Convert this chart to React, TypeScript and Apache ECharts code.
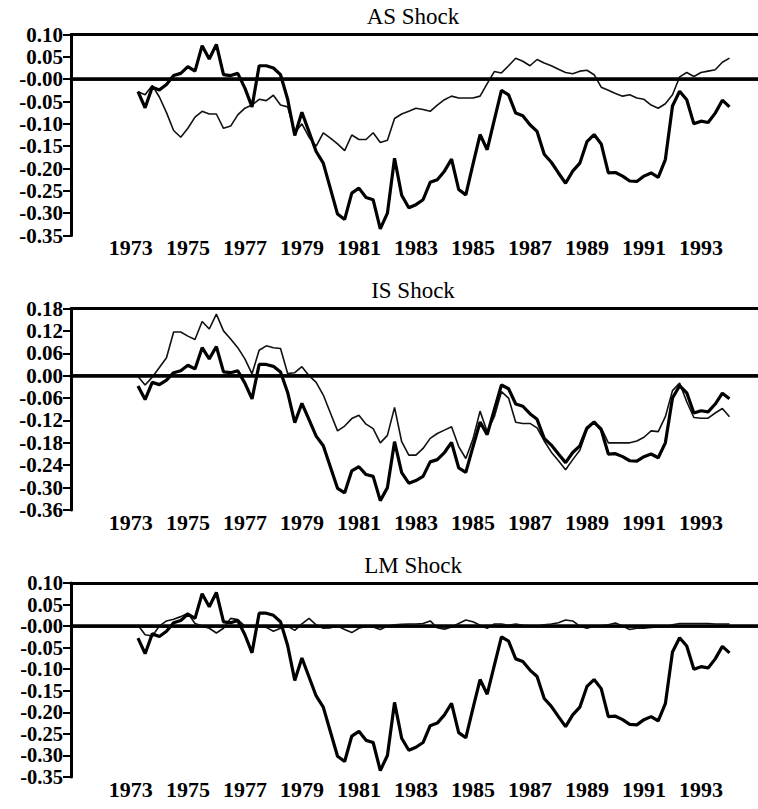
import React, { useEffect, useRef } from "react";
import * as echarts from "echarts";

// Quarterly data, 1973Q2 .. 1994Q1
const startYear = 1973.25;
const yearTicks = [1973, 1975, 1977, 1979, 1981, 1983, 1985, 1987, 1989, 1991, 1993];

const actual = [
  -0.028, -0.064, -0.018, -0.024, -0.012, 0.008, 0.013, 0.028, 0.018, 0.075,
  0.045, 0.078, 0.01, 0.008, 0.013, -0.02, -0.062, 0.03, 0.03, 0.025,
  0.01, -0.045, -0.126, -0.074, -0.118, -0.162, -0.188, -0.245, -0.302, -0.314,
  -0.255, -0.244, -0.265, -0.27, -0.335, -0.3, -0.177, -0.26, -0.288, -0.281,
  -0.27, -0.231, -0.225, -0.206, -0.179, -0.247, -0.259, -0.191, -0.124, -0.158,
  -0.091, -0.025, -0.035, -0.076, -0.082, -0.102, -0.117, -0.168, -0.186, -0.21,
  -0.233, -0.206, -0.188, -0.14, -0.124, -0.145, -0.21, -0.209, -0.217, -0.228,
  -0.229, -0.217, -0.21, -0.22, -0.18, -0.06, -0.027, -0.046, -0.1, -0.094,
  -0.097, -0.076, -0.047, -0.062,
];

const asShock = [
  -0.028, -0.035, -0.014, -0.04, -0.075, -0.115, -0.13, -0.11, -0.085, -0.072,
  -0.078, -0.078, -0.11, -0.105, -0.08, -0.065, -0.058, -0.045, -0.048, -0.036,
  -0.058, -0.062, -0.12, -0.1, -0.13, -0.15, -0.12, -0.132, -0.145, -0.16,
  -0.125, -0.135, -0.135, -0.12, -0.142, -0.137, -0.088, -0.078, -0.072, -0.065,
  -0.068, -0.072, -0.058, -0.046, -0.038, -0.042, -0.042, -0.042, -0.038, -0.01,
  0.017, 0.014, 0.03, 0.047, 0.04, 0.03, 0.044, 0.036, 0.03, 0.022,
  0.015, 0.012, 0.018, 0.02, 0.01, -0.018, -0.025, -0.032, -0.038, -0.035,
  -0.042, -0.045, -0.058, -0.065, -0.055, -0.035, 0.005, 0.015, 0.006, 0.015,
  0.018, 0.021, 0.038, 0.047,
];

const isShock = [
  -0.002, -0.025, -0.004, 0.022, 0.048, 0.117, 0.117, 0.106, 0.097, 0.145,
  0.125, 0.165, 0.12, 0.098, 0.075, 0.045, 0.005, 0.068, 0.08, 0.075,
  0.073, 0.006, 0.008, 0.024, 0.0, -0.018, -0.052, -0.1, -0.148, -0.135,
  -0.115, -0.106, -0.13, -0.142, -0.18, -0.16, -0.085, -0.177, -0.213, -0.213,
  -0.195, -0.168, -0.155, -0.146, -0.137, -0.19, -0.222, -0.17, -0.095, -0.15,
  -0.11, -0.043, -0.06, -0.125, -0.128, -0.128, -0.14, -0.175, -0.205, -0.228,
  -0.252, -0.225, -0.2, -0.145, -0.125, -0.14, -0.18, -0.18, -0.18, -0.18,
  -0.175, -0.165, -0.148, -0.15, -0.11, -0.04, -0.02, -0.07, -0.112, -0.114,
  -0.114, -0.1, -0.088, -0.11,
];

const lmShock = [
  0.002, -0.02, -0.023, 0.0, 0.012, 0.016, 0.022, 0.03, 0.006, 0.0,
  -0.005, -0.016, -0.005, 0.018, 0.015, 0.0, 0.0, 0.0, -0.003, -0.012,
  -0.005, 0.0, -0.01, 0.005, 0.018, 0.003, -0.005, -0.004, 0.0, -0.008,
  -0.015, -0.005, 0.0, -0.002, -0.008, 0.0, 0.003, 0.004, 0.005, 0.005,
  0.006, 0.012, -0.004, -0.007, -0.002, 0.006, 0.014, 0.01, 0.002, -0.005,
  0.005, 0.005, 0.002, 0.005, 0.002, 0.0, 0.0, 0.003, 0.005, 0.008,
  0.014, 0.012, 0.0, -0.005, 0.0, 0.001, 0.003, 0.007, 0.0, -0.008,
  -0.005, -0.005, -0.003, -0.002, -0.002, 0.003, 0.006, 0.006, 0.006, 0.006,
  0.006, 0.005, 0.005, 0.005,
];

const panelTitles = ["AS Shock", "IS Shock", "LM Shock"];
const panelShocks = [asShock, isShock, lmShock];
const yMins = [-0.35, -0.36, -0.35];
const yMaxs = [0.1, 0.18, 0.1];
const yIntervals = [0.05, 0.06, 0.05];
const zeroLabels = ["-0.00", "0.00", "-0.00"];

const FONT = "Times New Roman";

export default function App() {
  const ref = useRef<HTMLDivElement>(null);

  useEffect(() => {
    if (!ref.current) return;
    const chart = echarts.init(ref.current, undefined, { renderer: "svg" });

    const xs = actual.map((_, i) => startYear + i * 0.25);
    const grids = [
      { left: 71, right: 0, top: 34.5, height: 201 },
      { left: 71, right: 0, top: 308.5, height: 201.5 },
      { left: 71, right: 0, top: 583, height: 194 },
    ];
    const titleY = [16, 290.5, 565];
    const yFontSizes = [21, 21, 20.5];

    const xAxes: any[] = [];
    const yAxes: any[] = [];
    const series: any[] = [];
    const graphics: any[] = [];

    grids.forEach((g, i) => {
      xAxes.push({
        type: "value",
        gridIndex: i,
        min: 1970.9,
        max: 1995.0,
        position: "bottom",
        axisLine: { show: true, lineStyle: { color: "#000", width: 3.5 } },
        axisTick: { show: false },
        splitLine: { show: false },
        axisLabel: {
          customValues: yearTicks,
          formatter: (v: number) => String(Math.round(v)),
          color: "#000",
          fontFamily: FONT,
          fontSize: 22,
          lineHeight: 20,
          fontWeight: "bold",
          margin: 2,
        },
      });
      xAxes.push({
        type: "value",
        gridIndex: i,
        min: 1970.9,
        max: 1995.0,
        position: "top",
        axisLine: { show: true, lineStyle: { color: "#000", width: 3 } },
        axisTick: { show: false },
        axisLabel: { show: false },
        splitLine: { show: false },
      });
      yAxes.push({
        type: "value",
        gridIndex: i,
        min: yMins[i],
        max: yMaxs[i],
        interval: yIntervals[i],
        axisLine: { show: true, lineStyle: { color: "#000", width: 3 } },
        axisTick: { show: true, inside: false, length: 8, lineStyle: { color: "#000", width: 2 } },
        splitLine: { show: false },
        axisLabel: {
          showMinLabel: true,
          showMaxLabel: true,
          hideOverlap: false,
          formatter: (v: number) => {
            if (Math.abs(v) < 1e-9) return zeroLabels[i];
            return v.toFixed(2);
          },
          color: "#000",
          fontFamily: FONT,
          fontSize: yFontSizes[i],
          lineHeight: 18,
          fontWeight: "bold",
          margin: 8,
        },
      });
      series.push({
        type: "line",
        xAxisIndex: i * 2,
        yAxisIndex: i,
        data: xs.map((x, k) => [x, panelShocks[i][k]]),
        symbol: "none",
        lineStyle: { color: "#111", width: 1.6 },
        z: 2,
        markLine: {
          silent: true,
          symbol: "none",
          label: { show: false },
          lineStyle: { color: "#000", width: 2.5, type: "solid" },
          data: [{ yAxis: 0 }],
        },
      });
      series.push({
        type: "line",
        xAxisIndex: i * 2,
        yAxisIndex: i,
        data: xs.map((x, k) => [x, actual[k]]),
        symbol: "none",
        lineStyle: { color: "#000", width: 3.2 },
        z: 3,
      });
      graphics.push({
        type: "text",
        x: 413,
        y: titleY[i],
        style: {
          text: panelTitles[i],
          fontFamily: FONT,
          fontSize: 23,
          fill: "#000",
          align: "center",
          verticalAlign: "middle",
        },
      });
    });

    chart.setOption({
      animation: false,
      backgroundColor: "#fff",
      grid: grids,
      xAxis: xAxes,
      yAxis: yAxes,
      series,
      graphic: graphics,
    });

    return () => chart.dispose();
  }, []);

  return (
    <div
      ref={ref}
      style={{ position: "fixed", left: 0, top: 0, width: 758, height: 809, background: "#fff" }}
    />
  );
}
